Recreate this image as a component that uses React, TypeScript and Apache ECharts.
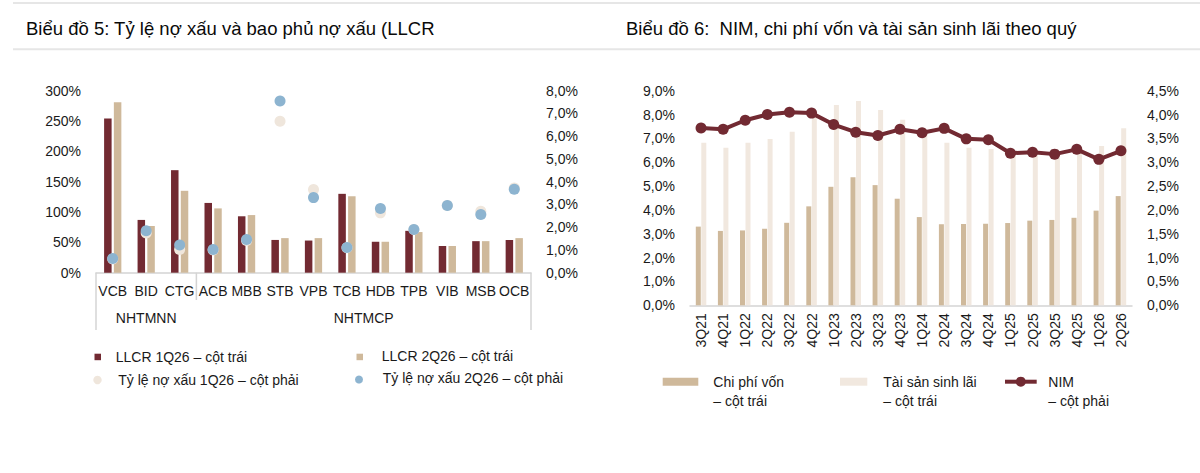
import React, { useEffect, useRef } from "react";
import * as echarts from "echarts";

// ---------- Chart 5 data ----------
const banks = ["VCB", "BID", "CTG", "ACB", "MBB", "STB", "VPB", "TCB", "HDB", "TPB", "VIB", "MSB", "OCB"];
const llcr1Q26 = [254, 87, 169, 115, 93, 54, 53, 130, 51, 69, 44, 52, 54];
const llcr2Q26 = [281, 77, 135, 106, 95, 57, 57, 126, 51, 67, 44, 52, 57];
const npl1Q26 = [0.6, 1.75, 1.02, 1.0, 1.42, 6.66, 3.66, 1.1, 2.63, 1.9, 2.95, 2.7, 3.72];
const npl2Q26 = [0.62, 1.84, 1.22, 1.02, 1.46, 7.55, 3.3, 1.11, 2.82, 1.9, 2.95, 2.56, 3.67];
const leftTicks = [0, 50, 100, 150, 200, 250, 300];
const groupLabels = ["NHTMNN", "NHTMCP"];
const legend5 = ["LLCR 1Q26 – cột trái", "LLCR 2Q26 – cột trái", "Tỷ lệ nợ xấu 1Q26 – cột phải", "Tỷ lệ nợ xấu 2Q26 – cột phải"];

// ---------- Chart 6 data ----------
const quarters = ["3Q21", "4Q21", "1Q22", "2Q22", "3Q22", "4Q22", "1Q23", "2Q23", "3Q23", "4Q23", "1Q24", "2Q24", "3Q24", "4Q24", "1Q25", "2Q25", "3Q25", "4Q25", "1Q26", "2Q26"];
const costOfFunds = [3.3, 3.12, 3.14, 3.21, 3.46, 4.15, 4.97, 5.37, 5.04, 4.47, 3.7, 3.4, 3.41, 3.42, 3.45, 3.55, 3.58, 3.67, 3.97, 4.58];
const assetYield = [6.82, 6.61, 6.82, 6.97, 7.28, 7.95, 8.4, 8.57, 8.19, 7.78, 7.3, 6.82, 6.61, 6.55, 6.3, 6.3, 6.2, 6.4, 6.68, 7.43];
const nim = [3.72, 3.69, 3.88, 4.0, 4.05, 4.03, 3.79, 3.63, 3.56, 3.69, 3.62, 3.71, 3.49, 3.47, 3.19, 3.21, 3.17, 3.27, 3.06, 3.24];
const legend6 = [["Chi phí vốn", "– cột trái"], ["Tài sản sinh lãi", "– cột trái"], ["NIM", "– cột phải"]];

const C_RED = "#722a32";
const C_TAN = "#cfb99b";
const C_CREAM = "#f1e8df";
const C_LIGHTDOT = "#efe6dc";
const C_BLUE = "#8db4d0";
const C_AXIS = "#d4d4d4";
const FONT = "Liberation Sans";
const TXT = "#1a1a1a";

const fmt1 = (v: number) => v.toFixed(1).replace(".", ",") + "%";

export default function App() {
  const ref = useRef<HTMLDivElement>(null);
  useEffect(() => {
    document.body.style.margin = "0";
    const chart = echarts.init(ref.current!, undefined, { renderer: "svg" });

    const g1 = { left: 96, top: 90.7, width: 435, height: 182 };
    const g2 = { left: 690, top: 90.7, width: 442, height: 214.6 };
    const catW = g1.width / banks.length;
    const g1Bottom = g1.top + g1.height;

    const labelStyle = { fontFamily: FONT, fontSize: 14, color: TXT };
    const txt = (text: string, x: number, y: number, extra: any = {}) => ({
      type: "text",
      x,
      y,
      silent: true,
      style: { text, fontFamily: FONT, fontSize: 14, fill: TXT, verticalAlign: "middle", ...extra },
    });
    const vline = (x: number, y2: number) => ({
      type: "line",
      silent: true,
      shape: { x1: x, y1: g1Bottom, x2: x, y2 },
      style: { stroke: C_AXIS, lineWidth: 1.5 },
    });

    const yBase = {
      type: "value",
      axisLine: { show: false },
      axisTick: { show: false },
      splitLine: { show: false },
    };

    const option: any = {
      animation: false,
      title: [
        {
          text: "Biểu đồ 5: Tỷ lệ nợ xấu và bao phủ nợ xấu (LLCR",
          left: 26,
          top: 18.5,
          padding: 0,
          textStyle: { fontFamily: FONT, fontSize: 18.5, fontWeight: "normal", color: "#0a0a0a" },
        },
        {
          text: "Biểu đồ 6:  NIM, chi phí vốn và tài sản sinh lãi theo quý",
          left: 626,
          top: 18.5,
          padding: 0,
          textStyle: { fontFamily: FONT, fontSize: 18.5, fontWeight: "normal", color: "#0a0a0a" },
        },
      ],
      grid: [
        { left: g1.left, top: g1.top, width: g1.width, height: g1.height },
        { left: g2.left, top: g2.top, width: g2.width, height: g2.height },
      ],
      xAxis: [
        {
          gridIndex: 0,
          type: "category",
          data: banks,
          axisLine: { lineStyle: { color: C_AXIS, width: 1.5 } },
          axisTick: { show: false },
          axisLabel: { ...labelStyle, margin: 11, interval: 0 },
        },
        {
          gridIndex: 1,
          type: "category",
          data: quarters,
          axisLine: { lineStyle: { color: C_AXIS, width: 1.5 } },
          axisTick: { show: false },
          axisLabel: { ...labelStyle, margin: 8, rotate: 90, interval: 0 },
        },
      ],
      yAxis: [
        {
          ...yBase,
          gridIndex: 0,
          min: leftTicks[0],
          max: leftTicks[leftTicks.length - 1],
          interval: 50,
          axisLabel: { ...labelStyle, margin: 15, formatter: "{value}%" },
        },
        {
          ...yBase,
          gridIndex: 0,
          position: "right",
          min: 0,
          max: 8,
          interval: 1,
          axisLabel: { ...labelStyle, margin: 15, formatter: fmt1 },
        },
        {
          ...yBase,
          gridIndex: 1,
          min: 0,
          max: 9,
          interval: 1,
          axisLabel: { ...labelStyle, margin: 15, formatter: fmt1 },
        },
        {
          ...yBase,
          gridIndex: 1,
          position: "right",
          min: 0,
          max: 4.5,
          interval: 0.5,
          axisLabel: { ...labelStyle, margin: 15, formatter: fmt1 },
        },
      ],
      series: [
        {
          name: legend5[0],
          type: "bar",
          xAxisIndex: 0,
          yAxisIndex: 0,
          data: llcr1Q26,
          barWidth: 7.5,
          barGap: "30%",
          itemStyle: { color: C_RED },
        },
        {
          name: legend5[1],
          type: "bar",
          xAxisIndex: 0,
          yAxisIndex: 0,
          data: llcr2Q26,
          barWidth: 7.5,
          barGap: "30%",
          itemStyle: { color: C_TAN },
        },
        {
          name: legend5[2],
          type: "scatter",
          xAxisIndex: 0,
          yAxisIndex: 1,
          data: npl1Q26,
          symbolSize: 11,
          z: 3,
          itemStyle: { color: C_LIGHTDOT, opacity: 1 },
        },
        {
          name: legend5[3],
          type: "scatter",
          xAxisIndex: 0,
          yAxisIndex: 1,
          data: npl2Q26,
          symbolSize: 11,
          z: 4,
          itemStyle: { color: C_BLUE, opacity: 1 },
        },
        {
          name: legend6[0].join(" "),
          type: "bar",
          xAxisIndex: 1,
          yAxisIndex: 2,
          data: costOfFunds,
          barWidth: 5,
          barGap: "10%",
          itemStyle: { color: C_TAN },
        },
        {
          name: legend6[1].join(" "),
          type: "bar",
          xAxisIndex: 1,
          yAxisIndex: 2,
          data: assetYield,
          barWidth: 5,
          barGap: "10%",
          itemStyle: { color: C_CREAM },
        },
        {
          name: legend6[2].join(" "),
          type: "line",
          xAxisIndex: 1,
          yAxisIndex: 3,
          data: nim,
          symbol: "circle",
          symbolSize: 11,
          z: 5,
          lineStyle: { color: C_RED, width: 4 },
          itemStyle: { color: C_RED },
        },
      ],
      graphic: [
        // title rules
        { type: "line", silent: true, shape: { x1: 13, y1: 3, x2: 1200, y2: 3 }, style: { stroke: "#e6e6e6", lineWidth: 2 } },
        { type: "line", silent: true, shape: { x1: 13, y1: 49.3, x2: 1200, y2: 49.3 }, style: { stroke: "#e6e6e6", lineWidth: 2 } },
        // group separators chart 5
        vline(g1.left, 330),
        vline(g1.left + catW * 3, 300),
        vline(g1.left + g1.width, 330),
        txt(groupLabels[0], g1.left + catW * 1.5, 318, { align: "center" }),
        txt(groupLabels[1], g1.left + catW * 8, 318, { align: "center" }),
        // chart 5 legend
        { type: "rect", silent: true, shape: { x: 94.5, y: 353.7, width: 6.5, height: 6.5 }, style: { fill: C_RED } },
        txt(legend5[0], 115.7, 357),
        { type: "rect", silent: true, shape: { x: 356.5, y: 353.7, width: 6.5, height: 6.5 }, style: { fill: C_TAN } },
        txt(legend5[1], 381.7, 356),
        { type: "circle", silent: true, shape: { cx: 97.5, cy: 380, r: 4.2 }, style: { fill: C_LIGHTDOT } },
        txt(legend5[2], 118.3, 380),
        { type: "circle", silent: true, shape: { cx: 359, cy: 379.5, r: 4 }, style: { fill: C_BLUE } },
        txt(legend5[3], 382.7, 377.5),
        // chart 6 legend
        { type: "rect", silent: true, shape: { x: 662.7, y: 377.7, width: 35.6, height: 8 }, style: { fill: C_TAN } },
        txt(legend6[0][0], 713.3, 381.7),
        txt(legend6[0][1], 713.3, 400.5),
        { type: "rect", silent: true, shape: { x: 840, y: 377.7, width: 27.3, height: 8 }, style: { fill: C_CREAM } },
        txt(legend6[1][0], 883.3, 381.7),
        txt(legend6[1][1], 883.3, 400.5),
        { type: "line", silent: true, shape: { x1: 1005, y1: 381.7, x2: 1036.7, y2: 381.7 }, style: { stroke: C_RED, lineWidth: 4 } },
        { type: "circle", silent: true, shape: { cx: 1020.8, cy: 381.7, r: 5 }, style: { fill: C_RED } },
        txt(legend6[2][0], 1048.3, 381.7),
        txt(legend6[2][1], 1048.3, 400.5),
      ],
    };

    chart.setOption(option);
    return () => chart.dispose();
  }, []);

  return <div ref={ref} style={{ width: 1200, height: 473, background: "#fff" }} />;
}
